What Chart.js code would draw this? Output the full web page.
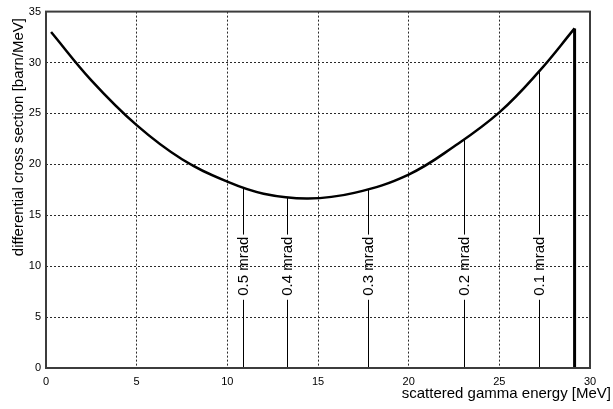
<!DOCTYPE html>
<html>
<head>
<meta charset="utf-8">
<script src="https://cdn.jsdelivr.net/npm/chart.js@4/dist/chart.umd.min.js"></script>
<style>
  html, body { margin: 0; padding: 0; background: #fff; }
  #wrap { width: 613px; height: 409px; }
</style>
</head>
<body>
<div id="wrap"><canvas id="c" width="613" height="409"></canvas></div>
<script>
// Differential cross section vs. scattered gamma energy
const energy = [0.28, 2.5, 5, 7.5, 10, 12, 14.45, 17, 20, 22.5, 25, 27.18, 29.15];
const sigma  = [33.0, 28.25, 23.85, 20.5, 18.3, 17.12, 16.65, 17.2, 19.0, 21.75, 25.1, 29.1, 33.35];

// Kinematic edge (maximum gamma energy)
const edgeEnergy = [29.15, 29.15];
const edgeSigma  = [0, 33.35];

// Collimation angle markers
const mradLabels = ['0.5 mrad', '0.4 mrad', '0.3 mrad', '0.2 mrad', '0.1 mrad'];
const mradEnergy = [10.87, 13.3, 17.76, 23.05, 27.18];
const mradSigma  = [17.66, 16.8, 17.5, 22.4, 29.1];
const mradLabelLevel = 10;   // labels sit centred on this cross-section value

const xTitle = 'scattered gamma energy [MeV]';
const yTitle = 'differential cross section [barn/MeV]';

const FONT = '"Liberation Sans", Arial, Helvetica, sans-serif';
Chart.defaults.font.family = FONT;
Chart.defaults.color = '#000';

const toPoints = (xs, ys) => xs.map((x, i) => ({ x: x, y: ys[i] }));

const markerPlugin = {
  id: 'markers',
  beforeDatasetsDraw(chart) {
    const { ctx, scales: { x, y } } = chart;
    ctx.save();
    ctx.font = '15px ' + FONT;
    ctx.strokeStyle = '#000';
    ctx.fillStyle = '#000';
    ctx.lineWidth = 1;
    const yc = y.getPixelForValue(mradLabelLevel);
    mradEnergy.forEach((e, i) => {
      const px = Math.round(x.getPixelForValue(e)) + 0.5;
      const y0 = y.getPixelForValue(0);
      const y1 = y.getPixelForValue(mradSigma[i]);
      const w = ctx.measureText(mradLabels[i]).width;
      const gTop = yc - w / 2 - 2;
      const gBot = yc + w / 2 + 4;
      ctx.beginPath();
      ctx.moveTo(px, y0); ctx.lineTo(px, gBot);
      ctx.moveTo(px, gTop); ctx.lineTo(px, y1);
      ctx.stroke();
      ctx.save();
      ctx.translate(px + 0.5, yc);
      ctx.rotate(-Math.PI / 2);
      ctx.textAlign = 'center';
      ctx.textBaseline = 'middle';
      ctx.fillText(mradLabels[i], 0, 0);
      ctx.restore();
    });
    ctx.restore();
  },
  afterDraw(chart) {
    const { ctx, chartArea: a } = chart;
    ctx.save();
    // plot frame
    ctx.strokeStyle = '#3c3c3c';
    ctx.lineWidth = 2;
    ctx.strokeRect(a.left, a.top, a.right - a.left, a.bottom - a.top);
    // axis titles
    ctx.fillStyle = '#000';
    ctx.font = '15px ' + FONT;
    ctx.textAlign = 'right';
    ctx.textBaseline = 'middle';
    ctx.fillText(xTitle, 611, 394);
    ctx.save();
    ctx.translate(19, 18);
    ctx.rotate(-Math.PI / 2);
    ctx.textAlign = 'right';
    ctx.textBaseline = 'middle';
    ctx.fillText(yTitle, 0, 0);
    ctx.restore();
    ctx.restore();
  }
};

new Chart(document.getElementById('c'), {
  type: 'line',
  data: {
    datasets: [
      {
        data: toPoints(energy, sigma),
        borderColor: '#000',
        borderWidth: 2.5,
        pointRadius: 0,
        tension: 0.4,
        fill: false
      },
      {
        data: toPoints(edgeEnergy, edgeSigma),
        borderColor: '#000',
        borderWidth: 3,
        pointRadius: 0,
        tension: 0,
        fill: false
      }
    ]
  },
  options: {
    responsive: false,
    animation: false,
    events: [],
    layout: { padding: { left: 0, right: 23, top: 8, bottom: 0 } },
    plugins: { legend: { display: false }, tooltip: { enabled: false } },
    scales: {
      x: {
        type: 'linear',
        min: 0, max: 30,
        ticks: { stepSize: 5, padding: 7, font: { size: 11 }, color: '#000', maxRotation: 0 },
        grid: { color: '#2a2a2a', lineWidth: 1, drawTicks: false },
        border: { display: false, dash: [2, 2] },
        afterFit(s) { s.height = 41; }
      },
      y: {
        type: 'linear',
        min: 0, max: 35,
        ticks: { stepSize: 5, padding: 5, font: { size: 11 }, color: '#000' },
        grid: { color: '#2a2a2a', lineWidth: 1, drawTicks: false },
        border: { display: false, dash: [2, 2] },
        afterFit(s) { s.width = 46; }
      }
    }
  },
  plugins: [markerPlugin]
});
</script>
</body>
</html>
